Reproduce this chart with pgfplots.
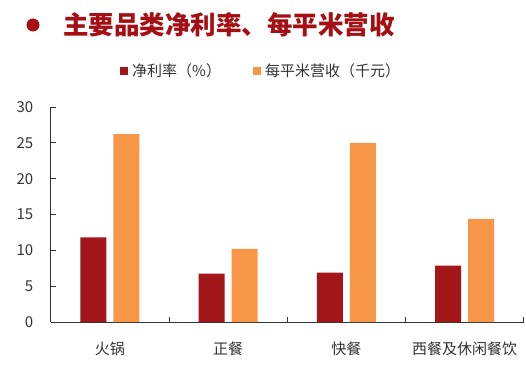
\documentclass[border=0pt]{standalone}
\usepackage{pgfplots}
\pgfplotsset{compat=1.18}
\usepackage{fontspec}
\setmainfont{Noto Sans CJK SC}
\definecolor{barred}{HTML}{A21619}
\definecolor{barorange}{HTML}{F79646}
\definecolor{titlered}{HTML}{A50E12}
\definecolor{axisgray}{HTML}{333333}
\begin{document}
\begin{tikzpicture}[x=1pt,y=1pt]
\useasboundingbox (0,0) rectangle (526,365);
\fill[white] (0,0) rectangle (526,365);
\fill[titlered] (33,340) circle (6.5);
\node[anchor=west, text=titlered, font=\fontsize{25.5}{28}\selectfont\bfseries, inner sep=0] at (63,340) {主要品类净利率、每平米营收};
\fill[barred] (120,290) rectangle (128,298);
\node[anchor=west,inner sep=0,text=axisgray,font=\fontsize{15}{18}\selectfont] at (132,294) {净利率（\%）};
\fill[barorange] (253,290) rectangle (261,298);
\node[anchor=west,inner sep=0,text=axisgray,font=\fontsize{15}{18}\selectfont] at (265,294) {每平米营收（千元）};
\begin{axis}[at={(43,60)}, anchor=south west, scale only axis,
  width=473pt, height=215pt,
  xmin=0, xmax=4, ymin=0, ymax=30,
  axis x line*=bottom, axis y line*=left,
  axis line style={axisgray, line width=0.9pt, -},
  ytick={0,5,...,30},
  xtick={1,2,3,4}, xticklabels={},
  extra x ticks={0.5,1.5,2.5,3.5},
  extra x tick labels={火锅,正餐,快餐,西餐及休闲餐饮},
  extra x tick style={major tick length=0pt},
  tick align=inside, major tick length=5pt,
  tick style={axisgray, line width=0.9pt},
  /pgf/number format/assume math mode=true,
  yticklabel style={font=\fontsize{15}{17}\selectfont, text=axisgray, xshift=-14pt},
  xticklabel style={font=\fontsize{15}{18}\selectfont, text=axisgray, yshift=-16pt},
  clip=false,
]
\addplot[ybar, fill=barred, draw=none, bar width=26pt, bar shift=-16.5pt] coordinates {(0.5,11.8) (1.5,6.75) (2.5,6.9) (3.5,7.85)};
\addplot[ybar, fill=barorange, draw=none, bar width=26pt, bar shift=16.5pt] coordinates {(0.5,26.2) (1.5,10.2) (2.5,25.0) (3.5,14.4)};
\end{axis}
\end{tikzpicture}
\end{document}
